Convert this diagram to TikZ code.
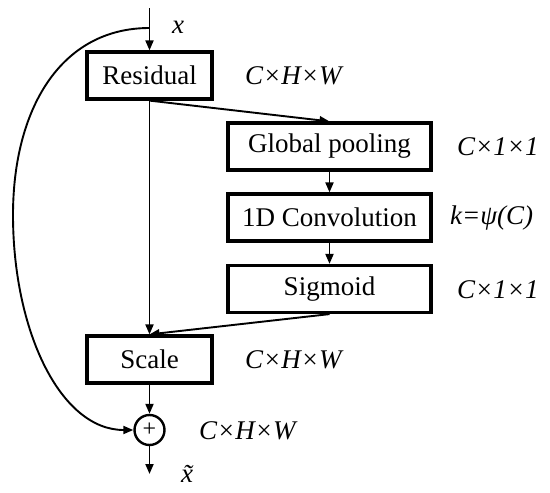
\documentclass[tikz,border=0pt]{standalone}
\usepackage{fontspec}
\setmainfont{Liberation Serif}
\usetikzlibrary{arrows.meta}
\begin{document}
\begin{tikzpicture}[x=1pt,y=-1pt,
  blk/.style={draw,line width=3.2pt,minimum height=47pt,inner sep=0pt,font=\fontsize{27}{30}\selectfont},
  wide/.style={blk,minimum width=203pt},
  narrow/.style={blk,minimum width=125pt},
  lbl/.style={anchor=west,inner sep=0pt,font=\fontsize{27}{30}\selectfont\itshape},
  conn/.style={line width=1.9pt,-{Triangle[length=10pt,width=8pt]}}]
\useasboundingbox (0,0) rectangle (550,493);
\node[narrow] (res) at (149.5,75.5) {Residual};
\node[wide] (gp) at (329.5,146.5) {Global pooling};
\node[wide] (conv) at (329.5,217.5) {1D Convolution};
\node[wide] (sig) at (329.5,289) {Sigmoid};
\node[narrow] (sc) at (149.5,359.5) {Scale};
\node[draw,circle,line width=2.4pt,minimum size=30pt,inner sep=0pt,font=\fontsize{24}{24}\selectfont] (add) at (149.5,430) {+};
\coordinate (in) at (149.5,8);
\coordinate (split) at (149.5,28);
\coordinate (out) at (149.5,474);
\node[lbl] (xin) at (172,27) {x};
\node[lbl] (xout) at (181,474) {\~{x}};
\node[lbl] (l1) at (245,76) {C×H×W};
\node[lbl] (l2) at (457,147) {C×1×1};
\node[lbl] (l3) at (450,218) {k=ψ(C)};
\node[lbl] (l4) at (457,290) {C×1×1};
\node[lbl] (l5) at (245,360) {C×H×W};
\node[lbl] (l6) at (199,431) {C×H×W};
\draw[conn] (in) -- (res.north);
\draw[conn] (res.south) -- (gp.north);
\draw[conn] (gp) -- (conv);
\draw[conn] (conv) -- (sig);
\draw[conn] (res.south) -- (sc.north);
\draw[conn] (sig.south) -- (sc.north);
\draw[conn] (sc) -- (add);
\draw[conn] (add) -- (out);
\draw[conn] (split) .. controls (60,28) and (13,110) .. (13,215) .. controls (13,330) and (60,430) .. (add.west);
\end{tikzpicture}
\end{document}
